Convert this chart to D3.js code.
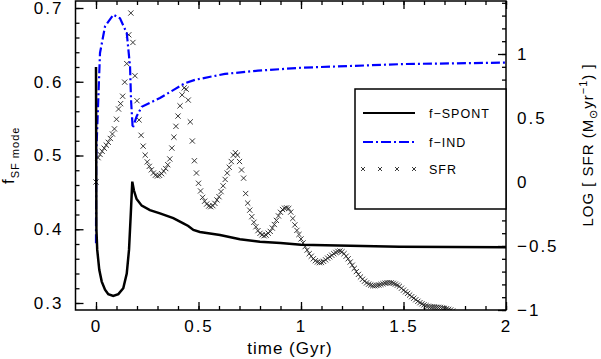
<!DOCTYPE html>
<html lang="en">
<head>
<meta charset="UTF-8">
<title>SF mode fractions and SFR</title>
<script src="https://d3js.org/d3.v7.min.js"></script>
<style>
  body { margin: 0; background: #fff; }
  svg { display: block; font-family: "Liberation Sans", Arial, sans-serif; }
  .tick text { font-size: 17px; letter-spacing: 2px; fill: #000; }
  .tick line { stroke: #000; stroke-width: 1.3px; }
</style>
</head>
<body>
<svg width="601" height="359"></svg>
<script>
// tick labels
var timeTicks = [0, 0.5, 1, 1.5, 2];
var fracTicks = [0.3, 0.4, 0.5, 0.6, 0.7];
var sfrTicks = [-1, -0.5, 0, 0.5, 1];

// f-SPONT, [time (Gyr), fraction]
var fSpont = [
  [0, 0.62], [0.002, 0.40], [0.006, 0.372], [0.016, 0.345], [0.028, 0.329],
  [0.044, 0.318], [0.06, 0.312], [0.084, 0.3095], [0.109, 0.312], [0.133, 0.32],
  [0.15, 0.34], [0.161, 0.372], [0.169, 0.417], [0.177, 0.4646], [0.185, 0.4525],
  [0.198, 0.441], [0.223, 0.432], [0.263, 0.426], [0.312, 0.4215], [0.377, 0.415],
  [0.426, 0.408], [0.45, 0.4045], [0.475, 0.399], [0.507, 0.3964], [0.605, 0.3923],
  [0.702, 0.3864], [0.8, 0.3832], [0.9, 0.3815], [1.0, 0.379], [1.48, 0.3764],
  [2.0, 0.3756]
];

// f-IND, [time (Gyr), fraction]
var fInd = [
  [0, 0.381], [0.001, 0.50], [0.011, 0.575], [0.0195, 0.639], [0.044, 0.675],
  [0.085, 0.691], [0.117, 0.686], [0.15, 0.666], [0.166, 0.621], [0.171, 0.575],
  [0.179, 0.537], [0.198, 0.553], [0.223, 0.566], [0.312, 0.578], [0.385, 0.590],
  [0.434, 0.598], [0.483, 0.6026], [0.629, 0.6107], [0.79, 0.615], [1.0, 0.619],
  [1.5, 0.624], [2.0, 0.626]
];

// log SFR (Msun/yr), one value every 0.01 Gyr from t = 0
var sfrStep = 0.01;
var sfrLog = [
  0.00, 0.19, 0.215, 0.24, 0.264, 0.288, 0.31, 0.34, 0.375, 0.415,
  0.49, 0.57, 0.612, 0.67, 0.78, 0.925, 1.15, 1.32, 1.09, 0.83,
  0.635, 0.485, 0.365, 0.28, 0.21, 0.157, 0.122, 0.095, 0.07, 0.053,
  0.047, 0.052, 0.065, 0.085, 0.105, 0.135, 0.18, 0.265, 0.35, 0.435,
  0.515, 0.595, 0.68, 0.735, 0.725, 0.64, 0.47, 0.32, 0.166, 0.07,
  -0.01, -0.07, -0.12, -0.15, -0.172, -0.188, -0.193, -0.185, -0.167, -0.14,
  -0.115, -0.075, -0.03, 0.02, 0.07, 0.115, 0.16, 0.21, 0.229, 0.21,
  0.16, 0.094, 0.03, -0.09, -0.165, -0.22, -0.271, -0.315, -0.35, -0.38,
  -0.401, -0.413, -0.42, -0.415, -0.40, -0.386, -0.36, -0.332, -0.30, -0.265,
  -0.237, -0.215, -0.205, -0.202, -0.207, -0.235, -0.285, -0.335, -0.378, -0.41,
  -0.445, -0.476, -0.505, -0.532, -0.56, -0.58, -0.60, -0.615, -0.625, -0.63,
  -0.628, -0.62, -0.608, -0.595, -0.584, -0.572, -0.56, -0.55, -0.542, -0.539,
  -0.545, -0.56, -0.58, -0.60, -0.625, -0.65, -0.675, -0.70, -0.722, -0.742,
  -0.76, -0.775, -0.788, -0.798, -0.805, -0.81, -0.81, -0.808, -0.805, -0.80,
  -0.795, -0.79, -0.787, -0.786, -0.788, -0.792, -0.798, -0.806, -0.815, -0.83,
  -0.845, -0.858, -0.87, -0.883, -0.896, -0.908, -0.92, -0.932, -0.943, -0.952,
  -0.96, -0.966, -0.971, -0.974, -0.976, -0.977, -0.978, -0.979, -0.98, -0.983,
  -0.987, -0.99, -0.995, -1.0, -1.008
];

var svg = d3.select("svg");
var x0 = 75.5, x1 = 506, y0 = 1, y1 = 310;

var x = d3.scaleLinear().domain([-0.1, 2]).range([x0, x1]);
var yL = d3.scaleLinear().domain([0.2905, 0.7095]).range([y1, y0]);
var yR = d3.scaleLinear().domain([-1, 1.414]).range([y1, y0]);

var fmt = d3.format("");
function noDomain(g) { g.select(".domain").remove(); }

// major + minor ticks, all pointing inward
svg.append("g").attr("transform", "translate(0," + y1 + ")")
    .call(d3.axisBottom(x).tickValues(timeTicks).tickSize(-8).tickPadding(10).tickFormat(fmt))
    .call(noDomain);
svg.append("g").attr("transform", "translate(0," + y1 + ")")
    .call(d3.axisBottom(x).tickValues(d3.range(0, 2.001, 0.1)).tickSize(-4).tickFormat(""))
    .call(noDomain);
svg.append("g").attr("transform", "translate(0," + y0 + ")")
    .call(d3.axisTop(x).tickValues(timeTicks).tickSize(-8).tickFormat(""))
    .call(noDomain);
svg.append("g").attr("transform", "translate(0," + y0 + ")")
    .call(d3.axisTop(x).tickValues(d3.range(0, 2.001, 0.1)).tickSize(-4).tickFormat(""))
    .call(noDomain);

svg.append("g").attr("transform", "translate(" + x0 + ",0)")
    .call(d3.axisLeft(yL).tickValues(fracTicks).tickSize(-8).tickPadding(12).tickFormat(fmt))
    .call(noDomain);
svg.append("g").attr("transform", "translate(" + x0 + ",0)")
    .call(d3.axisLeft(yL).tickValues(d3.range(0.3, 0.7001, 0.02)).tickSize(-4).tickFormat(""))
    .call(noDomain);

svg.append("g").attr("transform", "translate(" + x1 + ",0)")
    .call(d3.axisRight(yR).tickValues(sfrTicks).tickSize(-8).tickPadding(11).tickFormat(fmt))
    .call(noDomain);
svg.append("g").attr("transform", "translate(" + x1 + ",0)")
    .call(d3.axisRight(yR).tickValues(d3.range(-1, 1.41, 0.1)).tickSize(-4).tickFormat(""))
    .call(noDomain);

svg.append("clipPath").attr("id", "plot")
  .append("rect").attr("x", x0).attr("y", y0).attr("width", x1 - x0).attr("height", y1 - y0);

var plot = svg.append("g").attr("clip-path", "url(#plot)");

// SFR crosses
var cross = "M-2.6,-2.6L2.6,2.6M-2.6,2.6L2.6,-2.6";
plot.selectAll(".sfr")
  .data(sfrLog)
  .enter().append("path")
    .attr("class", "sfr")
    .attr("d", cross)
    .attr("transform", function(d, i) { return "translate(" + x(i * sfrStep) + "," + yR(d) + ")"; })
    .attr("fill", "none")
    .attr("stroke", "#222")
    .attr("stroke-width", 0.9);

var line = d3.line()
    .x(function(d) { return x(d[0]); })
    .y(function(d) { return yL(d[1]); })
    .curve(d3.curveMonotoneX);

plot.append("path").datum(fInd)
    .attr("d", line.curve(d3.curveLinear))
    .attr("fill", "none")
    .attr("stroke", "#0000ff")
    .attr("stroke-width", 2.2)
    .attr("stroke-dasharray", "9,3,2,3");

plot.append("path").datum(fSpont)
    .attr("d", line)
    .attr("fill", "none")
    .attr("stroke", "#000")
    .attr("stroke-width", 2.5);

// frame
svg.append("rect")
    .attr("x", x0).attr("y", y0).attr("width", x1 - x0).attr("height", y1 - y0)
    .attr("fill", "none").attr("stroke", "#000").attr("stroke-width", 1.5);

// legend
var legend = svg.append("g");
legend.append("rect")
    .attr("x", 355).attr("y", 89).attr("width", x1 - 355).attr("height", 120)
    .attr("fill", "#fff").attr("stroke", "#000").attr("stroke-width", 1.5);
legend.append("line").attr("x1", 363).attr("x2", 415).attr("y1", 113).attr("y2", 113)
    .attr("stroke", "#000").attr("stroke-width", 2);
legend.append("line").attr("x1", 363).attr("x2", 415).attr("y1", 142).attr("y2", 142)
    .attr("stroke", "#0000ff").attr("stroke-width", 2).attr("stroke-dasharray", "10,3,2,3");
legend.selectAll(".lx")
  .data([363, 380, 397, 414])
  .enter().append("path")
    .attr("d", "M-2,-2L2,2M-2,2L2,-2")
    .attr("transform", function(d) { return "translate(" + d + ",169)"; })
    .attr("stroke", "#222").attr("stroke-width", 0.9);
legend.selectAll(".lt")
  .data([["f\u2212SPONT", 113], ["f\u2212IND", 142], ["SFR", 169]])
  .enter().append("text")
    .attr("x", 429).attr("y", function(d) { return d[1]; })
    .attr("dy", "0.36em")
    .attr("font-size", 12.5).attr("letter-spacing", 1)
    .text(function(d) { return d[0]; });

// axis titles
svg.append("text")
    .attr("x", 290).attr("y", 354)
    .attr("text-anchor", "middle")
    .attr("font-size", 17).attr("letter-spacing", 1)
    .text("time (Gyr)");

var lt = svg.append("text")
    .attr("transform", "translate(14,184) rotate(-90)")
    .attr("font-size", 17);
lt.append("tspan").text("f");
lt.append("tspan").attr("dy", 5).attr("dx", 1).attr("font-size", 11).attr("letter-spacing", 1).text("SF mode");

var rt = svg.append("text")
    .attr("transform", "translate(593,145) rotate(-90)")
    .attr("text-anchor", "middle")
    .attr("font-size", 15).attr("letter-spacing", 1);
rt.append("tspan").text("LOG [ SFR (M");
rt.append("tspan").attr("dy", 4).attr("font-size", 11).text("\u2299");
rt.append("tspan").attr("dy", -4).text("yr");
rt.append("tspan").attr("dy", -6).attr("font-size", 11).text("\u22121");
rt.append("tspan").attr("dy", 6).text(") ]");
</script>
</body>
</html>
